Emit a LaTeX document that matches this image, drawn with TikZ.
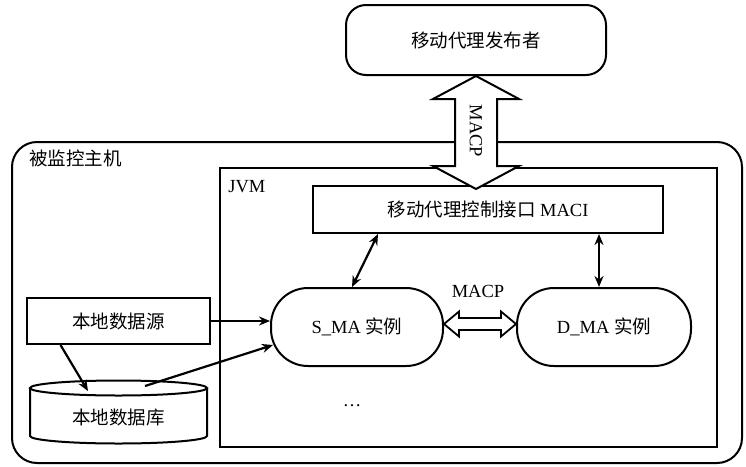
\documentclass[tikz,border=0pt]{standalone}
\usepackage{fontspec}
\setmainfont{Liberation Serif}
\newfontfamily\cjk{Noto Sans CJK SC}
\usetikzlibrary{arrows.meta}

\begin{document}
\begin{tikzpicture}[x=1pt,y=1pt,>={Stealth[length=11pt,width=9pt]},line width=2pt,
  every node/.style={font=\fontsize{18.5}{20}\selectfont},
  box/.style={draw,line width=2pt,inner sep=0pt},
  rbox/.style={box,rounded corners=20pt},
  pill/.style={box,rounded corners=37pt},
  con/.style={<->,line width=2.2pt}]
\useasboundingbox (0,0) rectangle (746,-466);

% host and JVM
\draw[rounded corners=25pt] (12,-142) rectangle (742,-463);
\node[anchor=west] (host) at (25,-158) {\cjk 被监控主机};
\draw (220,-168) rectangle (717,-447);
\node[anchor=west] (jvm) at (224,-187) {JVM};

\node[rbox, minimum width=260, minimum height=70] (pub) at (476,-40) {\cjk 移动代理发布者};
\node[box, minimum width=350, minimum height=47] (maci) at (488,-209.5) {{\cjk 移动代理控制接口} MACI};
\node[pill, minimum width=172, minimum height=78] (sma) at (357,-327) {S\_MA {\cjk 实例}};
\node[pill, minimum width=174, minimum height=78] (dma) at (604,-327) {D\_MA {\cjk 实例}};
\node[box, minimum width=183, minimum height=46] (src) at (118.5,-321) {\cjk 本地数据源};

% database
\draw (30,-388) -- (30,-436) arc[start angle=180, end angle=360, x radius=88.5, y radius=7.5] -- (207,-388);
\draw (118.5,-388) ellipse [x radius=88.5, y radius=7.5];
\node (db) at (118.5,-417) {\cjk 本地数据库};
\coordinate (dbin) at (88,-391);
\coordinate (dbout) at (145,-386);

% MACP to publisher
\filldraw[fill=white] (pub.south) -- ++(43,-23) -- ++(-22,0) -- ++(0,-67) -- ++(22,0)
  -- ++(-43,-23) -- ++(-43,23) -- ++(22,0) -- ++(0,67) -- ++(-22,0) -- cycle;
\node[rotate=-90] (macpv) at (476,-131) {MACP};

% MACP between instances
\filldraw[fill=white,line width=1.8pt] ([yshift=3]sma.east) -- ++(15,12.5) -- ++(0,-6.5) -- ++(42,0) -- ++(0,6.5)
  -- ++(15,-12.5) -- ++(-15,-12.5) -- ++(0,6.5) -- ++(-42,0) -- ++(0,-6.5) -- cycle;
\node (macph) at (478,-291) {MACP};

\draw[con] ([xshift=-110]maci.south) -- ([xshift=-5]sma.north);
\draw[con] ([xshift=111]maci.south) -- ([xshift=111]maci.south |- dma.north);
\draw[->,line width=2.2pt] (src.east) -- (src.east -| sma.west);
\draw[->,line width=2.2pt] ([xshift=-58]src.south) -- (dbin);
\draw[->,line width=2.2pt] (dbout) -- ([shift={(3,-18)}]sma.west);

\node (more) at (352,-406) {\ldots};
\end{tikzpicture}
\end{document}
